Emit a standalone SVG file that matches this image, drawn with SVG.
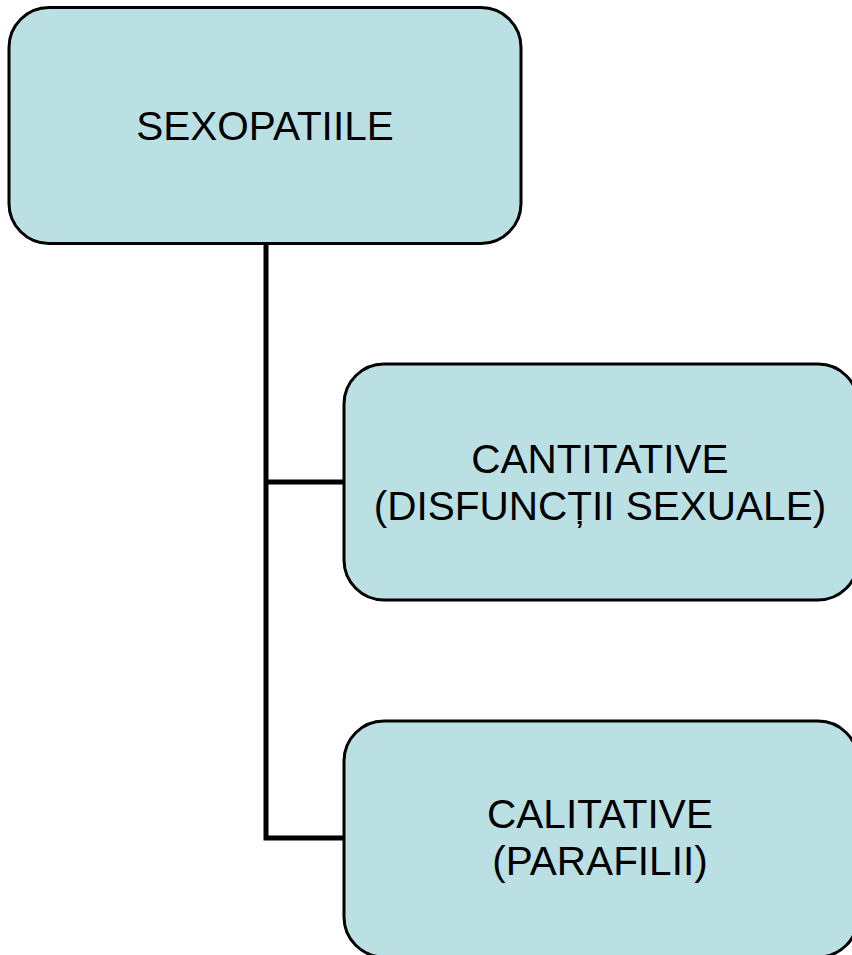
<svg xmlns="http://www.w3.org/2000/svg" width="852" height="955" viewBox="0 0 852 955">
<style>
.box{fill:#BBE0E3;stroke:#000;stroke-width:3}
.lbl{font-family:"Liberation Sans",Arial,sans-serif;font-size:40.5px;fill:#000;text-anchor:middle}
.conn{fill:none;stroke:#000;stroke-width:5}
</style>
<rect width="852" height="955" fill="#fff"/>
<g id="connectors">
<polyline class="conn" points="266,244 266,838 344,838"/>
<line class="conn" x1="266" y1="482" x2="344" y2="482"/>
</g>
<g id="node-sexopatiile">
<rect class="box" x="9" y="7.5" width="512" height="236" rx="40" ry="40"/>
<text class="lbl" x="265" y="140">SEXOPATIILE</text>
</g>
<g id="node-cantitative">
<rect class="box" x="344" y="364" width="514" height="236" rx="40" ry="40"/>
<text class="lbl" x="600" y="473">CANTITATIVE</text>
<text class="lbl" x="600" y="520">(DISFUNCȚII SEXUALE)</text>
</g>
<g id="node-calitative">
<rect class="box" x="344" y="721" width="514" height="236" rx="40" ry="40"/>
<text class="lbl" x="600" y="828">CALITATIVE</text>
<text class="lbl" x="600" y="875">(PARAFILII)</text>
</g>
</svg>
